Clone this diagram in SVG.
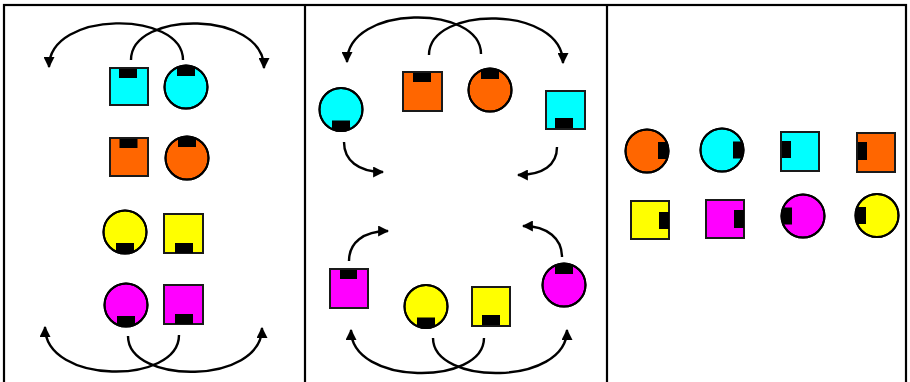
<svg xmlns="http://www.w3.org/2000/svg" width="910" height="382" viewBox="0 0 910 382">
<style>
.frame{fill:#fff;stroke:#000;stroke-width:2.2}
.div{stroke:#000;stroke-width:2.2}
.sq{stroke:#1a1a1a;stroke-width:2}
.ci{stroke:#000;stroke-width:2}
.ring{fill:none;stroke:#000;stroke-width:2}
.tab{fill:#000}
.arc{fill:none;stroke:#000;stroke-width:2.4;marker-end:url(#ah)}
.cy{fill:#00ffff}.or{fill:#ff6600}.ye{fill:#ffff00}.ma{fill:#ff00ff}
</style>
<defs>
<marker id="ah" markerUnits="userSpaceOnUse" markerWidth="11" markerHeight="11" viewBox="0 0 10 10" refX="9" refY="5" orient="auto">
<path d="M0,0 L10,5 L0,10 z" fill="#000"/>
</marker>
<clipPath id="cc" clipPathUnits="userSpaceOnUse"><circle cx="0" cy="0" r="21.5"/></clipPath>
</defs>
<rect class="frame" x="4" y="5" width="902" height="382"/>
<line class="div" x1="305" y1="5" x2="305" y2="382"/>
<line class="div" x1="607" y1="5" x2="607" y2="382"/>

<!-- Panel 1 -->
<g id="p1-cyan-square"><rect class="sq cy" x="110" y="68" width="38" height="37"/><rect class="tab" x="119" y="69" width="18" height="9"/></g>
<g id="p1-cyan-circle" transform="translate(186,87)"><circle class="ci cy" r="21.5"/><rect class="tab" x="-9" y="-21.5" width="18" height="10.5" clip-path="url(#cc)"/><circle class="ring" r="21.5"/></g>
<g id="p1-orange-square"><rect class="sq or" x="110" y="138" width="38" height="38"/><rect class="tab" x="119.5" y="139" width="18" height="9"/></g>
<g id="p1-orange-circle" transform="translate(187,158)"><circle class="ci or" r="21.5"/><rect class="tab" x="-9" y="-21.5" width="18" height="10.5" clip-path="url(#cc)"/><circle class="ring" r="21.5"/></g>
<g id="p1-yellow-circle" transform="translate(125,232)"><circle class="ci ye" r="21.5"/><rect class="tab" x="-9" y="11" width="18" height="10.5" clip-path="url(#cc)"/><circle class="ring" r="21.5"/></g>
<g id="p1-yellow-square"><rect class="sq ye" x="164" y="214" width="39" height="39"/><rect class="tab" x="175" y="243" width="18" height="10"/></g>
<g id="p1-magenta-circle" transform="translate(126,305)"><circle class="ci ma" r="21.5"/><rect class="tab" x="-9" y="11" width="18" height="10.5" clip-path="url(#cc)"/><circle class="ring" r="21.5"/></g>
<g id="p1-magenta-square"><rect class="sq ma" x="164" y="285" width="39" height="39"/><rect class="tab" x="175" y="314" width="18" height="10"/></g>

<!-- Panel 2 -->
<g id="p2-cyan-circle" transform="translate(341,109.5)"><circle class="ci cy" r="21.5"/><rect class="tab" x="-9" y="11" width="18" height="10.5" clip-path="url(#cc)"/><circle class="ring" r="21.5"/></g>
<g id="p2-orange-square"><rect class="sq or" x="403" y="72" width="39" height="39"/><rect class="tab" x="413" y="73" width="18" height="9"/></g>
<g id="p2-orange-circle" transform="translate(490,90)"><circle class="ci or" r="21.5"/><rect class="tab" x="-9" y="-21.5" width="18" height="10.5" clip-path="url(#cc)"/><circle class="ring" r="21.5"/></g>
<g id="p2-cyan-square"><rect class="sq cy" x="546" y="91" width="39" height="38"/><rect class="tab" x="555" y="118" width="18" height="10"/></g>
<g id="p2-magenta-square"><rect class="sq ma" x="330" y="269" width="38" height="39"/><rect class="tab" x="340" y="270" width="17" height="9"/></g>
<g id="p2-yellow-circle" transform="translate(426,306.5)"><circle class="ci ye" r="21.5"/><rect class="tab" x="-9" y="11" width="18" height="10.5" clip-path="url(#cc)"/><circle class="ring" r="21.5"/></g>
<g id="p2-yellow-square"><rect class="sq ye" x="472" y="287" width="38" height="39"/><rect class="tab" x="482" y="315" width="18" height="10"/></g>
<g id="p2-magenta-circle" transform="translate(564,285)"><circle class="ci ma" r="21.5"/><rect class="tab" x="-9" y="-21.5" width="18" height="10.5" clip-path="url(#cc)"/><circle class="ring" r="21.5"/></g>

<!-- Panel 3 -->
<g id="p3-orange-circle" transform="translate(647,151)"><circle class="ci or" r="21.5"/><rect class="tab" x="11" y="-9" width="10.5" height="17" clip-path="url(#cc)"/><circle class="ring" r="21.5"/></g>
<g id="p3-cyan-circle" transform="translate(722,150)"><circle class="ci cy" r="21.5"/><rect class="tab" x="11" y="-8.5" width="10.5" height="17" clip-path="url(#cc)"/><circle class="ring" r="21.5"/></g>
<g id="p3-cyan-square"><rect class="sq cy" x="781" y="132" width="38" height="39"/><rect class="tab" x="782" y="141" width="9" height="17"/></g>
<g id="p3-orange-square"><rect class="sq or" x="857" y="133" width="38" height="39"/><rect class="tab" x="858" y="142" width="9" height="18"/></g>
<g id="p3-yellow-square"><rect class="sq ye" x="631" y="201" width="38" height="38"/><rect class="tab" x="659" y="212" width="10" height="17"/></g>
<g id="p3-magenta-square"><rect class="sq ma" x="706" y="200" width="38" height="38"/><rect class="tab" x="734" y="210" width="10" height="18"/></g>
<g id="p3-magenta-circle" transform="translate(803,216)"><circle class="ci ma" r="21.5"/><rect class="tab" x="-21.5" y="-8.5" width="10.5" height="17" clip-path="url(#cc)"/><circle class="ring" r="21.5"/></g>
<g id="p3-yellow-circle" transform="translate(877,215.5)"><circle class="ci ye" r="21.5"/><rect class="tab" x="-21.5" y="-8.5" width="10.5" height="17" clip-path="url(#cc)"/><circle class="ring" r="21.5"/></g>

<g id="connectors">
<path class="arc" d="M183,60 C183,10 49,10 49,67"/>
<path class="arc" d="M131,60 C131,10 264,10 264,68"/>
<path class="arc" d="M179,335 C179,385 45,385 45,327"/>
<path class="arc" d="M128,336 C128,385 262,385 262,328"/>
<path class="arc" d="M481,54 C481,4 347,4 347,62"/>
<path class="arc" d="M429,55 C429,5 563,5 563,63"/>
<path class="arc" d="M344,142 C344,160 358,172 383,172"/>
<path class="arc" d="M557,147 C557,165 543,175 518,175"/>
<path class="arc" d="M349,261 C349,243 363,231 388,231"/>
<path class="arc" d="M562,257 C562,239 548,226 523,226"/>
<path class="arc" d="M484,338 C484,386 351,386 351,330"/>
<path class="arc" d="M433,338 C433,386 567,386 567,330"/>
</g>
</svg>
